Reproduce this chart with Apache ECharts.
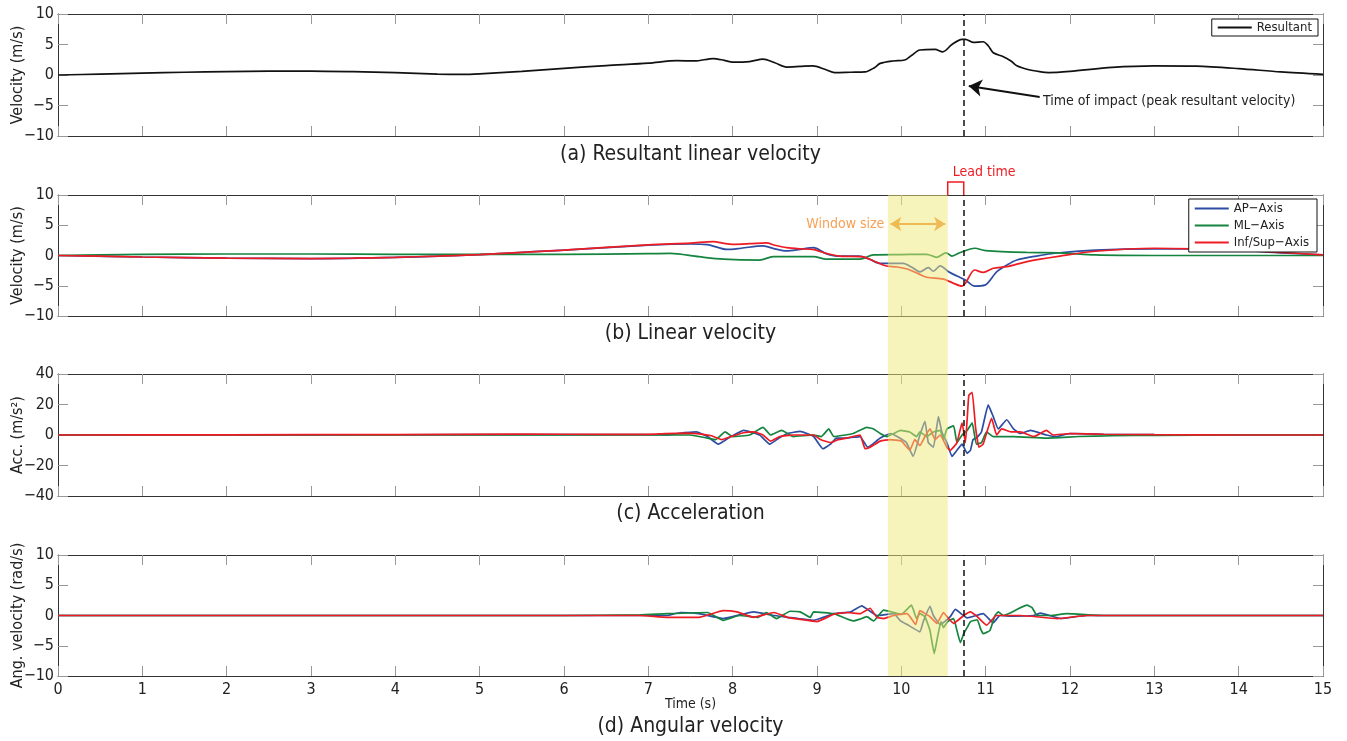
<!DOCTYPE html>
<html>
<head>
<meta charset="utf-8">
<script src="https://cdn.jsdelivr.net/npm/echarts@6/dist/echarts.min.js"></script>
<style>
  html, body { margin: 0; padding: 0; background: #fff; }
  #chart { width: 1347px; height: 741px; }
</style>
</head>
<body>
<div id="chart"></div>
<script>
// ---- data (time in s, value) ----
const resultantVel = [[0,0],[0.5,0.15],[1,0.3],[1.5,0.45],[2,0.55],[2.5,0.62],[3,0.65],[3.5,0.55],[4,0.38],[4.5,0.15],[4.8,0.1],[5,0.2],[5.5,0.6],[6,1.1],[6.5,1.55],[7,1.95],[7.34,2.35],[7.55,2.3],[7.77,2.7],[7.9,2.4],[8,2.1],[8.2,2.2],[8.36,2.6],[8.5,2.0],[8.64,1.3],[8.8,1.4],[8.95,1.5],[9.1,0.9],[9.21,0.4],[9.4,0.45],[9.57,0.5],[9.68,1.2],[9.75,1.9],[9.9,2.3],[10.04,2.45],[10.12,3.2],[10.22,4.1],[10.4,4.2],[10.49,3.8],[10.6,5.0],[10.72,5.85],[10.76,5.85],[10.85,5.35],[10.97,5.45],[11.03,4.8],[11.09,3.65],[11.21,3.0],[11.3,2.3],[11.37,1.5],[11.5,0.9],[11.64,0.55],[11.75,0.4],[12,0.6],[12.5,1.25],[13,1.5],[13.5,1.45],[14,1.05],[14.5,0.5],[15,0.1]];

const velAP = [[0,0],[1,-0.25],[2,-0.45],[3,-0.5],[4,-0.3],[5,0.15],[6,0.9],[7,1.7],[7.5,1.9],[7.7,1.8],[7.93,1.0],[8.1,1.2],[8.36,1.6],[8.5,1.1],[8.64,0.75],[8.8,1.0],[8.96,1.3],[9.1,0.35],[9.24,-0.1],[9.5,-0.1],[9.62,-0.6],[9.75,-1.3],[10.02,-1.3],[10.12,-1.9],[10.22,-2.7],[10.32,-2.0],[10.38,-2.6],[10.46,-1.7],[10.56,-2.7],[10.66,-3.4],[10.76,-4.05],[10.87,-5.05],[10.99,-4.9],[11.13,-2.7],[11.25,-1.6],[11.37,-0.75],[11.6,-0.1],[11.88,0.45],[12.3,0.9],[13,1.1],[13.5,1.1],[14,0.9],[14.5,0.45],[15,0.1]];
const velML = [[0,0],[0.5,0.1],[1,0.2],[2,0.25],[3,0.25],[4,0.2],[5,0.2],[6,0.2],[7,0.3],[7.26,0.35],[7.6,-0.2],[7.89,-0.6],[8.32,-0.75],[8.48,-0.2],[8.96,-0.2],[9.11,-0.6],[9.51,-0.6],[9.67,0.1],[10,0.15],[10.3,0.2],[10.42,-0.3],[10.53,0.45],[10.6,-0.1],[10.7,0.5],[10.87,1.2],[11,0.8],[11.49,0.5],[11.88,0.45],[12.3,0.1],[13,0],[14,0],[15,0]];
const velIS = [[0,0],[0.5,-0.1],[1,-0.25],[2,-0.45],[3,-0.5],[3.5,-0.45],[4,-0.3],[4.5,-0.1],[5,0.15],[6,0.9],[7,1.75],[7.5,2.05],[7.77,2.3],[7.9,2.0],[8,1.85],[8.2,1.95],[8.4,2.1],[8.5,1.7],[8.64,1.3],[8.8,1.1],[8.95,1.0],[9.11,0.35],[9.27,-0.1],[9.53,-0.2],[9.67,-0.9],[9.81,-1.7],[9.95,-1.9],[10.06,-2.2],[10.2,-3.0],[10.3,-3.6],[10.5,-3.9],[10.62,-4.6],[10.72,-5.05],[10.76,-4.6],[10.87,-2.4],[10.97,-2.8],[11.09,-2.1],[11.25,-1.85],[11.49,-1.0],[11.88,-0.1],[12.3,0.7],[13,1.2],[13.5,1.1],[14,0.9],[14.5,0.5],[15,0.1]];

const accAP = [[0,0],[3,0],[5,0.3],[6.5,0.2],[7,0.3],[7.22,0],[7.35,1],[7.57,2],[7.7,-1],[7.83,-6],[7.95,-2],[8.13,3],[8.32,0],[8.44,-6],[8.55,-2],[8.65,1],[8.8,2.4],[8.96,-1],[9.07,-9],[9.16,-6],[9.23,-2],[9.35,-2],[9.51,-1],[9.6,-8],[9.66,-6],[9.75,-2],[9.87,1],[9.95,-1],[10.06,-5],[10.14,-14],[10.22,0],[10.28,9],[10.32,-5],[10.38,-8],[10.44,12],[10.48,2],[10.54,-5],[10.6,-14],[10.66,-10],[10.72,-6],[10.78,-12],[10.82,-10],[10.85,-3],[10.89,-2],[10.95,2],[11.03,19.7],[11.09,12],[11.15,4],[11.25,10],[11.33,4],[11.41,1],[11.53,3],[11.72,0],[11.84,-1],[12,1],[12.4,0.5],[13,0.2],[14,0],[15,0]];
const accML = [[0,0],[3,0],[5,0.1],[7,0.1],[7.5,0],[7.7,-2],[7.8,-3],[7.91,2],[8,-1],[8.2,0],[8.36,5],[8.45,0],[8.58,3],[8.72,-1],[8.96,0],[9.05,-1],[9.14,4],[9.2,-1],[9.43,1],[9.59,5],[9.67,4],[9.75,1],[9.83,-1],[9.91,1],[9.99,3],[10.1,2],[10.18,-1],[10.22,2],[10.3,-1],[10.38,2],[10.46,3],[10.5,-3],[10.54,4],[10.62,6],[10.66,-5],[10.72,0],[10.78,3],[10.84,8],[10.89,-6],[10.95,-5],[11.01,2],[11.09,-1],[11.33,-1],[11.72,-2],[12.1,-1],[12.5,-0.5],[13,-0.2],[14,0],[15,0]];
const accIS = [[0,0],[2,0.1],[4,0.3],[5.5,0.6],[6.5,0.4],[7,0.4],[7.2,0.9],[7.45,1.2],[7.6,0.8],[7.75,-0.5],[7.87,-3],[7.98,-1],[8.13,1.5],[8.25,2],[8.36,0],[8.45,-4],[8.56,-1],[8.72,0],[8.96,0],[9.04,-3],[9.16,-5],[9.25,-3],[9.35,-2],[9.51,0],[9.57,-9],[9.63,-8],[9.75,-4],[9.87,-3],[10,-4],[10.1,-10],[10.16,-3],[10.22,-7],[10.28,-1],[10.34,4],[10.4,-3],[10.46,0],[10.54,-8],[10.58,-10],[10.66,-5],[10.72,8],[10.76,-5],[10.8,26],[10.84,28],[10.88,5],[10.92,-8],[10.97,-6],[11.07,11],[11.13,0],[11.19,4],[11.3,2],[11.41,2],[11.57,-1],[11.72,3],[11.8,0],[12,1],[12.4,0.5],[13,0.2],[14,0],[15,0]];

const angAP = [[0,0],[3,0],[6,0],[6.9,0],[7.22,0],[7.38,0.5],[7.6,0.3],[7.89,-0.5],[8.25,0.6],[8.49,0],[8.65,-0.3],[8.96,-0.8],[9.2,0.3],[9.4,0.6],[9.53,1.6],[9.71,0],[9.91,0.3],[9.99,-0.9],[10.07,-1.5],[10.22,-2.7],[10.26,-1],[10.34,1.5],[10.38,0],[10.46,-1.5],[10.58,-0.2],[10.64,1],[10.78,-0.4],[10.97,0.3],[11.09,-1.2],[11.17,0],[11.33,-0.1],[11.57,0],[11.65,0.4],[11.89,-0.5],[12.2,0],[13,0],[15,0]];
const angML = [[0,0],[3,0],[6,0],[6.9,0.1],[7.22,0.3],[7.7,0.5],[7.89,-0.8],[8.08,0],[8.3,-0.3],[8.4,0.5],[8.52,-0.5],[8.68,0.7],[8.8,0.6],[8.92,-0.3],[8.96,0.6],[9.2,0.3],[9.43,-0.9],[9.51,-0.6],[9.59,-0.2],[9.67,-0.9],[9.79,0.9],[9.91,0.5],[10,0.2],[10.12,1.7],[10.18,-0.5],[10.22,0.3],[10.28,-0.2],[10.34,-2.5],[10.39,-6.3],[10.43,-3.5],[10.47,-1],[10.5,-2],[10.55,-1],[10.62,-0.5],[10.66,-2.5],[10.7,-4.5],[10.74,-3],[10.78,-2],[10.82,-1],[10.9,-0.7],[10.94,-2.2],[10.97,-3],[11.05,-2.5],[11.11,0],[11.15,0.6],[11.21,0],[11.29,0.4],[11.37,1],[11.49,1.7],[11.55,1.3],[11.61,0],[11.77,0],[11.96,0.3],[12.4,0],[13,0],[15,0]];
const angIS = [[0,0],[3,0],[6,0],[6.9,0],[7.22,-0.3],[7.6,-0.3],[7.89,0.8],[8.05,0.6],[8.25,-0.3],[8.49,0.5],[8.65,-0.3],[9,-1],[9.2,0.2],[9.36,0.5],[9.51,0.3],[9.63,1.2],[9.71,-0.3],[9.79,-0.5],[9.91,0],[10.07,0.3],[10.17,-1.5],[10.22,0.8],[10.34,-0.2],[10.42,-1.3],[10.5,0.5],[10.56,-0.5],[10.62,-1.3],[10.74,0],[10.82,0.6],[10.9,-0.2],[11.01,-1.6],[11.13,0],[11.41,0],[11.85,-0.5],[12.2,0],[13,0],[15,0]];

// annotations
const impactTime = 10.74;
const windowRange = [9.84, 10.55];
const panelTitles = ['(a) Resultant linear velocity', '(b) Linear velocity', '(c) Acceleration', '(d) Angular velocity'];
const yNames = ['Velocity (m/s)', 'Velocity (m/s)', 'Acc. (m/s\u00b2)', 'Ang. velocity (rad/s)'];
const yRanges = [[-10, 10, 5], [-10, 10, 5], [-40, 40, 20], [-10, 10, 5]];

const FONT = '"Liberation Sans Narrow", "DejaVu Sans Condensed", Lato, sans-serif';
const BLUE = '#2d4da2', GREEN = '#14843f', RED = '#ed1c24';
const GRIDS = [{ top: 14, height: 122 }, { top: 195, height: 121 }, { top: 374, height: 122 }, { top: 555, height: 121 }];
const LEFT = 58, RIGHT = 24;

const minus = v => String(v).replace('-', '\u2212');

const tick = { inside: true, length: 10, lineStyle: { color: '#999' } };
const frame = { show: true, onZero: false, lineStyle: { color: '#333', width: 1 } };

const xAxis = [], yAxis = [];
GRIDS.forEach((g, i) => {
  xAxis.push({
    gridIndex: i, type: 'value', min: 0, max: 15, interval: 1, position: 'bottom',
    axisLine: frame, axisTick: tick, splitLine: { show: false },
    axisLabel: { show: i === 3, color: '#222', fontSize: 16, fontFamily: FONT, margin: 6 },
    name: i === 3 ? 'Time (s)' : '', nameLocation: 'middle', nameGap: 21, nameMoveOverlap: false,
    nameTextStyle: { color: '#222', fontSize: 14, fontFamily: FONT },
  });
});
GRIDS.forEach((g, i) => {
  xAxis.push({
    gridIndex: i, type: 'value', min: 0, max: 15, interval: 1, position: 'top',
    axisLine: frame, axisTick: tick, splitLine: { show: false }, axisLabel: { show: false },
  });
});
GRIDS.forEach((g, i) => {
  const [mn, mx, step] = yRanges[i];
  yAxis.push({
    gridIndex: i, type: 'value', min: mn, max: mx, interval: step, position: 'left',
    axisLine: frame, axisTick: tick, splitLine: { show: false },
    axisLabel: { color: '#222', fontSize: 16, fontFamily: FONT, margin: 4, formatter: minus },
    name: yNames[i], nameLocation: 'middle', nameGap: 32, nameMoveOverlap: false,
    nameTextStyle: { color: '#222', fontSize: 16, fontFamily: FONT },
  });
});
GRIDS.forEach((g, i) => {
  const [mn, mx, step] = yRanges[i];
  yAxis.push({
    gridIndex: i, type: 'value', min: mn, max: mx, interval: step, position: 'right',
    axisLine: frame, axisTick: tick, splitLine: { show: false }, axisLabel: { show: false },
  });
});

const impactLine = { xAxis: impactTime, lineStyle: { color: '#111', width: 1.5, type: [6, 4] } };

function line(name, data, color, idx, extra) {
  return Object.assign({
    name, type: 'line', data, xAxisIndex: idx, yAxisIndex: idx,
    showSymbol: false, symbol: 'none', smooth: 0.12, clip: true,
    lineStyle: { color, width: 1.7 }, itemStyle: { color }, animation: false,
  }, extra || {});
}

const series = [
  line('Resultant', resultantVel, '#111', 0, {
    smooth: 0.3,
    markLine: {
      silent: true, symbol: ['none', 'none'], label: { show: false }, animation: false,
      data: [
        impactLine,
        [{ coord: [11.64, -3.6], lineStyle: { color: '#111', width: 2, type: 'solid' } },
         { coord: [10.8, -1.8], symbol: 'arrow', symbolSize: 13 }],
      ],
    },
  }),
  line('AP\u2212Axis', velAP, BLUE, 1, { smooth: 0.3 }),
  line('ML\u2212Axis', velML, GREEN, 1, {
    smooth: 0.3,
    markLine: {
      silent: true, symbol: ['none', 'none'], animation: false, label: { show: false },
      data: [
        impactLine,
        [{ coord: [windowRange[0] + 0.03, 5.2], symbol: 'arrow', symbolSize: 11,
           lineStyle: { color: '#f08a30', width: 2, type: 'solid' },
           label: { show: true, position: 'start', formatter: 'Window size', color: '#f7a055', fontSize: 14, fontFamily: FONT, distance: 6 } },
         { coord: [windowRange[1] - 0.03, 5.2], symbol: 'arrow', symbolSize: 11 }],
      ],
    },
  }),
  line('Inf/Sup\u2212Axis', velIS, RED, 1, { smooth: 0.3 }),
  line('AP\u2212Axis', accAP, BLUE, 2),
  line('ML\u2212Axis', accML, GREEN, 2, {
    markLine: { silent: true, symbol: ['none', 'none'], label: { show: false }, animation: false, data: [impactLine] },
  }),
  line('Inf/Sup\u2212Axis', accIS, RED, 2),
  line('AP\u2212Axis', angAP, BLUE, 3),
  line('ML\u2212Axis', angML, GREEN, 3, {
    markLine: { silent: true, symbol: ['none', 'none'], label: { show: false }, animation: false, data: [impactLine] },
  }),
  line('Inf/Sup\u2212Axis', angIS, RED, 3),
];

const legendBase = {
  orient: 'vertical', icon: 'rect', itemWidth: 34, itemHeight: 2, itemGap: 4,
  backgroundColor: '#fff', borderColor: '#111', borderWidth: 1, borderRadius: 0,
  textStyle: { color: '#222', fontSize: 13, fontFamily: FONT }, selectedMode: false,
};

const chart = echarts.init(document.getElementById('chart'));
chart.setOption({
  animation: false,
  backgroundColor: '#fff',
  grid: GRIDS.map(g => ({
    left: LEFT, right: RIGHT, top: g.top, height: g.height,
    containLabel: false, outerBoundsMode: 'none',
  })),
  xAxis, yAxis, series,
  legend: [
    Object.assign({}, legendBase, { data: ['Resultant'], right: 29, top: 19, padding: [2, 6, 2, 6] }),
    Object.assign({}, legendBase, { data: ['AP\u2212Axis', 'ML\u2212Axis', 'Inf/Sup\u2212Axis'], right: 30, top: 199, padding: [3, 8, 3, 6] }),
  ],
});

// overlay annotations positioned through the axes
const px = t => chart.convertToPixel({ xAxisIndex: 1 }, t);
const bTop = GRIDS[1].top, dBottom = GRIDS[3].top + GRIDS[3].height;
const xw0 = px(windowRange[0]), xw1 = px(windowRange[1]), xi = px(impactTime);
const impactTxt = chart.convertToPixel({ xAxisIndex: 0, yAxisIndex: 0 }, [11.68, -4.3]);
const centerX = LEFT + (1347 - LEFT - RIGHT) / 2;
const titleY = [155, 334, 514, 727];

chart.setOption({
  graphic: [
    { type: 'rect', silent: true, z: 100,
      shape: { x: xw0, y: bTop, width: xw1 - xw0, height: dBottom - bTop },
      style: { fill: 'rgba(238,232,120,0.5)' } },
    { type: 'polyline', silent: true, z: 101,
      shape: { points: [[xw1, bTop], [xw1, bTop - 13], [xi, bTop - 13], [xi, bTop]] },
      style: { stroke: RED, lineWidth: 1.5, fill: null } },
    { type: 'text', silent: true, z: 101, x: xw1 + 5, y: bTop - 23,
      style: { text: 'Lead time', fill: RED, fontSize: 14, fontFamily: FONT, textAlign: 'left', textVerticalAlign: 'middle' } },
    { type: 'text', silent: true, z: 101, x: impactTxt[0], y: impactTxt[1],
      style: { text: 'Time of impact (peak resultant velocity)', fill: '#222', fontSize: 14, fontFamily: FONT, textAlign: 'left', textVerticalAlign: 'middle' } },
  ].concat(panelTitles.map((t, i) => ({
    type: 'text', silent: true, x: centerX, y: titleY[i],
    style: { text: t, fill: '#222', fontSize: 21, fontFamily: FONT, textAlign: 'center', textVerticalAlign: 'middle' },
  }))),
});
</script>
</body>
</html>
